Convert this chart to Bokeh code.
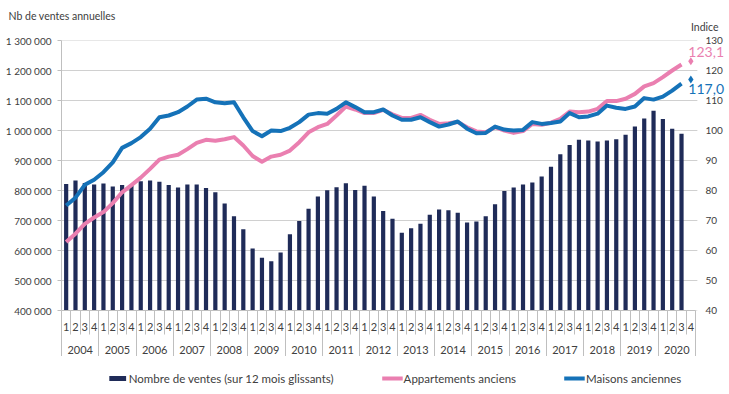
from bokeh.plotting import figure
from bokeh.layouts import column
from bokeh.models import (Range1d, LinearAxis, FixedTicker, Legend, LegendItem,
                          Label, Title, ColumnDataSource)
from bokeh.embed import file_html
from bokeh.resources import INLINE

# ---------------- data ----------------
years = [str(y) for y in range(2004, 2021)]
quarters = ["1", "2", "3", "4"]

# Nombre de ventes (sur 12 mois glissants), 2004T1 .. 2020T3
ventes = [822000, 833000, 825000, 820000, 823000, 813000, 818000, 818000, 831000, 833000,
          829000, 818000, 810000, 820000, 820000, 808000, 794000, 757000, 714000, 671000,
          607000, 576000, 564000, 593000, 654000, 698000, 739000, 780000, 801000, 811000,
          824000, 802000, 816000, 780000, 732000, 706000, 659000, 674000, 689000, 719000,
          737000, 734000, 726000, 693000, 697000, 714000, 754000, 798000, 810000, 820000,
          827000, 847000, 879000, 921000, 952000, 969000, 967000, 963000, 967000, 971000,
          986000, 1013000, 1040000, 1066000, 1038000, 1006000, 989000]

# Indices de prix (base 100), 2004T1 .. 2020T3
appartements = [62.8, 65.6, 68.9, 71.0, 72.8, 75.8, 79.4, 81.8, 84.3, 87.2,
                90.3, 91.3, 91.9, 93.8, 95.9, 96.9, 96.6, 97.1, 97.8, 95.0,
                91.5, 89.6, 91.3, 91.9, 93.3, 96.1, 99.4, 101.1, 102.2, 105.0,
                108.0, 107.0, 105.8, 105.8, 106.9, 105.4, 104.2, 104.2, 105.2, 103.6,
                102.2, 102.4, 102.8, 101.1, 99.7, 99.4, 101.1, 100.0, 99.2, 99.8,
                102.2, 101.9, 102.6, 103.9, 106.3, 106.1, 106.3, 107.2, 109.8, 109.8,
                110.6, 112.2, 114.7, 115.8, 117.8, 120.0, 122.0]
maisons = [75.0, 77.6, 81.9, 83.6, 86.1, 89.4, 94.2, 95.8, 97.8, 100.6,
           104.4, 105.0, 106.1, 108.0, 110.3, 110.6, 109.4, 109.1, 109.4, 104.4,
           99.8, 98.1, 100.0, 99.8, 100.9, 102.8, 105.3, 105.8, 105.6, 107.2,
           109.4, 107.8, 106.1, 106.1, 107.0, 105.0, 103.6, 103.6, 104.4, 102.8,
           101.3, 102.0, 103.0, 100.6, 99.1, 99.2, 101.3, 100.3, 100.0, 100.2,
           102.8, 102.2, 102.5, 103.0, 105.8, 104.4, 104.7, 105.6, 108.3, 107.6,
           107.2, 108.0, 110.8, 110.3, 111.3, 113.3, 115.6]

# Dernier point (2020T4, provisoire)
dernier_appartements = 123.1
dernier_maisons = 117.0

left_ticks = list(range(400000, 1300001, 100000))
right_ticks = list(range(40, 131, 10))

# ---------------- style / layout ----------------
FONT = "Lato"
TXT = "#404040"
BAR = "#1f2b58"
PINK = "#ea7fb0"
BLUE = "#1572b8"
GRID = "#d0d0d0"
AXL = "#bfbfbf"

W = 729
H_MAIN, H_LEG = 356, 38
LEFT, TOP, RIGHT = 61, 40, 2
PLOT_W = 634                      # width of the gridded plot area
frame_w = W - LEFT - RIGHT

n_slots = len(years) * 4
x_end = n_slots * frame_w / PLOT_W
xs = [i + 0.5 for i in range(len(ventes))]
x_last = len(ventes) + 0.5

src = ColumnDataSource(dict(x=xs, v=ventes, a=appartements, m=maisons))

p = figure(width=W, height=H_MAIN, output_backend="svg", toolbar_location=None,
           x_range=Range1d(0, x_end), y_range=Range1d(left_ticks[0], left_ticks[-1]),
           x_axis_type=None, min_border_left=LEFT, min_border_right=RIGHT,
           min_border_top=TOP, min_border_bottom=0)
p.extra_y_ranges = {"idx": Range1d(right_ticks[0], right_ticks[-1])}
p.outline_line_color = None
p.background_fill_color = "white"
p.border_fill_color = "white"
p.ygrid.visible = False

# horizontal gridlines limited to the plot area
p.segment(x0=0, x1=n_slots + 0.2, y0=left_ticks, y1=left_ticks,
          line_color=GRID, line_width=1, level="underlay")

# left axis
ya = p.yaxis[0]
ya.ticker = FixedTicker(ticks=left_ticks)
ya.major_label_overrides = {v: f"{v:,}".replace(",", " ") for v in left_ticks}
ya.axis_line_color = AXL
ya.major_tick_line_color = AXL
ya.major_tick_out = 4
ya.major_tick_in = 0
ya.minor_tick_line_color = None
ya.minor_tick_out = 0
ya.minor_tick_in = 0
ya.major_label_standoff = 6
ya.major_label_text_font = FONT
ya.major_label_text_font_size = "10px"
ya.major_label_text_color = TXT

# right axis (labels pulled back next to the plot area)
ra = LinearAxis(y_range_name="idx", ticker=FixedTicker(ticks=right_ticks),
                axis_line_color=None, major_tick_out=0, major_tick_in=0,
                major_tick_line_color=None, minor_tick_line_color=None,
                minor_tick_out=0, minor_tick_in=0,
                major_label_standoff=-22, major_label_text_font=FONT,
                major_label_text_font_size="10px", major_label_text_color=TXT)
p.add_layout(ra, "right")

# bottom axis: quarters (separators drawn as minor ticks)
qax = LinearAxis(ticker=FixedTicker(ticks=[i + 0.5 for i in range(n_slots)],
                                    minor_ticks=list(range(n_slots + 1))),
                 bounds=(0, n_slots),
                 major_label_overrides={i + 0.5: quarters[i % 4] for i in range(n_slots)},
                 major_tick_out=0, major_tick_in=0, major_tick_line_color=None,
                 minor_tick_out=24, minor_tick_in=0, minor_tick_line_color=AXL,
                 axis_line_color=AXL, major_label_standoff=-12,
                 major_label_text_font=FONT, major_label_text_font_size="11px",
                 major_label_text_color=TXT)
p.add_layout(qax, "below")

# bottom axis: years
yax = LinearAxis(ticker=FixedTicker(ticks=[4 * k + 2 for k in range(len(years))],
                                    minor_ticks=[4 * k for k in range(len(years) + 1)]),
                 bounds=(0, n_slots),
                 major_label_overrides={4 * k + 2: years[k] for k in range(len(years))},
                 major_tick_out=0, major_tick_in=0, major_tick_line_color=None,
                 minor_tick_out=25, minor_tick_in=0, minor_tick_line_color=AXL,
                 axis_line_color=None, major_label_standoff=-13,
                 major_label_text_font=FONT, major_label_text_font_size="11px",
                 major_label_text_color=TXT)
p.add_layout(yax, "below")

# glyphs
bars = p.vbar(x="x", top="v", bottom=left_ticks[0], width=0.45, source=src,
              fill_color=BAR, line_color=None)
l_app = p.line(x="x", y="a", source=src, y_range_name="idx", line_color=PINK,
               line_width=4, line_join="round")
l_mai = p.line(x="x", y="m", source=src, y_range_name="idx", line_color=BLUE,
               line_width=4, line_join="round")
p.scatter(x=[x_last, x_last], y=[dernier_appartements, dernier_maisons],
          y_range_name="idx", marker="diamond", size=8,
          fill_color=[PINK, BLUE], line_color=None)

# end labels
fmt = lambda v: f"{v:.1f}".replace(".", ",")
p.add_layout(Label(x=x_last, y=dernier_appartements, y_range_name="idx",
                   x_offset=-2.5, y_offset=9, text=fmt(dernier_appartements),
                   text_align="left", text_baseline="middle", text_font=FONT,
                   text_font_size="14px", text_color=PINK))
p.add_layout(Label(x=x_last, y=dernier_maisons, y_range_name="idx",
                   x_offset=-2.5, y_offset=-9, text=fmt(dernier_maisons),
                   text_align="left", text_baseline="middle", text_font=FONT,
                   text_font_size="14px", text_color=BLUE))

# axis titles in the top band (first added = closest to the plot)
p.add_layout(Title(text="Indice", align="right", offset=9, standoff=11,
                   vertical_align="top",
                   text_font=FONT, text_font_size="10.5px", text_font_style="normal",
                   text_color=TXT), "above")
p.add_layout(Title(text="Nb de ventes annuelles", align="left", offset=-53, standoff=-13,
                   vertical_align="bottom",
                   text_font=FONT, text_font_size="10.5px", text_font_style="normal",
                   text_color=TXT), "above")

# legend strip (separate small figure under the chart)
q = figure(width=W, height=H_LEG, output_backend="svg", toolbar_location=None,
           x_axis_type=None, y_axis_type=None, x_range=Range1d(0, 1), y_range=Range1d(0, 1),
           min_border_left=26, min_border_right=0, min_border_top=6, min_border_bottom=0)
q.outline_line_color = None
q.grid.visible = False
g_bar = q.vbar(x=[-10], top=[-10], bottom=-11, width=0.1, fill_color=BAR, line_color=None)
g_app = q.line(x=[-10, -9], y=[-10, -10], line_color=PINK, line_width=4)
g_mai = q.line(x=[-10, -9], y=[-10, -10], line_color=BLUE, line_width=4)
legend = Legend(items=[LegendItem(label="Nombre de ventes (sur 12 mois glissants)", renderers=[g_bar]),
                       LegendItem(label="Appartements anciens", renderers=[g_app]),
                       LegendItem(label="Maisons anciennes", renderers=[g_mai])],
                orientation="horizontal", location="center", margin=0, padding=0,
                spacing=48, glyph_width=21, glyph_height=6, label_height=16,
                label_standoff=1, border_line_color=None, background_fill_alpha=0,
                label_text_font=FONT, label_text_font_size="11.5px",
                label_text_color=TXT)
q.add_layout(legend)

layout = column(p, q, spacing=0)
open("out.html", "w").write(file_html(layout, INLINE))
